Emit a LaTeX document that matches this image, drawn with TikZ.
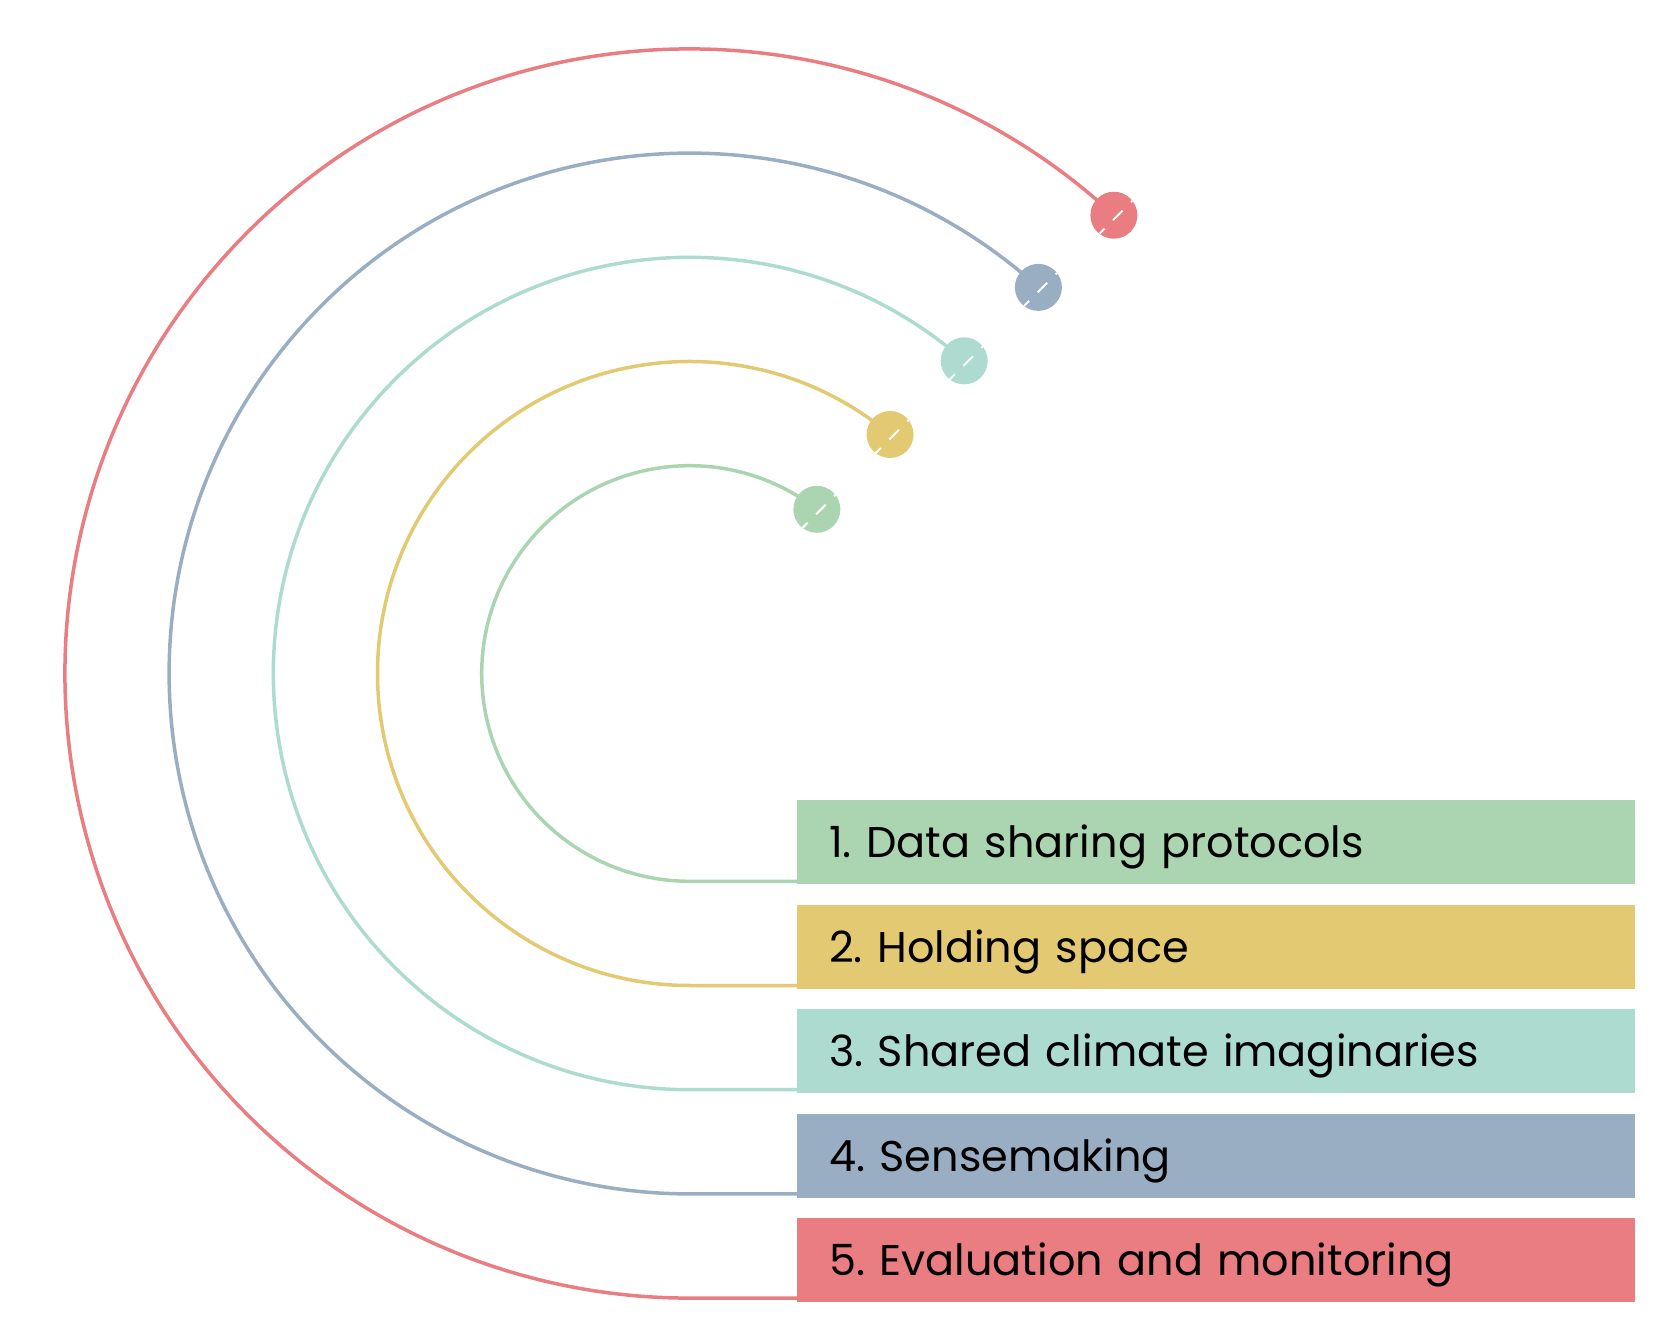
\documentclass[tikz,border=0pt]{standalone}
\usepackage{fontspec}
\setmainfont{Poppins}
\definecolor{cGreen}{HTML}{AAD5B0}
\definecolor{cYellow}{HTML}{E2C972}
\definecolor{cTeal}{HTML}{ADDBD0}
\definecolor{cBlue}{HTML}{9AAEC3}
\definecolor{cRed}{HTML}{E97D81}
\begin{document}
\begin{tikzpicture}[x=1pt,y=1pt,
  arcline/.style={draw=#1, line width=3.5pt},
  labelbox/.style={fill=#1, anchor=north west, inner ysep=0pt, inner xsep=32pt,
    text width=774pt, align=left, text height=57.5pt, text depth=26.5pt,
    font=\fontsize{43}{50}\selectfont\frenchspacing, text=black},
  dotnode/.style={circle, fill=#1, inner sep=0pt, minimum size=47pt,
    path picture={\draw[white, line width=2pt,
      dash pattern=on 7pt off 12pt on 13.5pt off 12pt on 3pt]
      ([shift={(-14.2,-18.4)}]path picture bounding box.center) -- ++(33.5,33.5);}}]
\useasboundingbox (0,0) rectangle (1672,1334);
\coordinate (c) at (689.5,660.5);
% label boxes
\node[labelbox=cGreen]  (b1) at (797,534)   {1. Data sharing protocols};
\node[labelbox=cYellow] (b2) at (797,429.5) {2. Holding space};
\node[labelbox=cTeal]   (b3) at (797,325)   {3. Shared climate imaginaries};
\node[labelbox=cBlue]   (b4) at (797,220.5) {4. Sensemaking};
\node[labelbox=cRed]    (b5) at (797,116)   {5. Evaluation and monitoring};
% dot positions
\path (c) ++(52.2:207.8) coordinate (p1);
\path (c) ++(50.0:312.0) coordinate (p2);
\path (c) ++(48.7:416.2) coordinate (p3);
\path (c) ++(47.9:520.4) coordinate (p4);
\path (c) ++(47.2:624.6) coordinate (p5);
% arcs
\draw[arcline=cGreen]  (p1) arc[start angle=52.2, end angle=270, radius=207.8] coordinate (e1) -- (e1 -| b1.west);
\draw[arcline=cYellow] (p2) arc[start angle=50.0, end angle=270, radius=312.0] coordinate (e2) -- (e2 -| b2.west);
\draw[arcline=cTeal]   (p3) arc[start angle=48.7, end angle=270, radius=416.2] coordinate (e3) -- (e3 -| b3.west);
\draw[arcline=cBlue]   (p4) arc[start angle=47.9, end angle=270, radius=520.4] coordinate (e4) -- (e4 -| b4.west);
\draw[arcline=cRed]    (p5) arc[start angle=47.2, end angle=270, radius=624.6] coordinate (e5) -- (e5 -| b5.west);
% dots
\node[dotnode=cGreen]  (d1) at (p1) {};
\node[dotnode=cYellow] (d2) at (p2) {};
\node[dotnode=cTeal]   (d3) at (p3) {};
\node[dotnode=cBlue]   (d4) at (p4) {};
\node[dotnode=cRed]    (d5) at (p5) {};
\end{tikzpicture}
\end{document}
